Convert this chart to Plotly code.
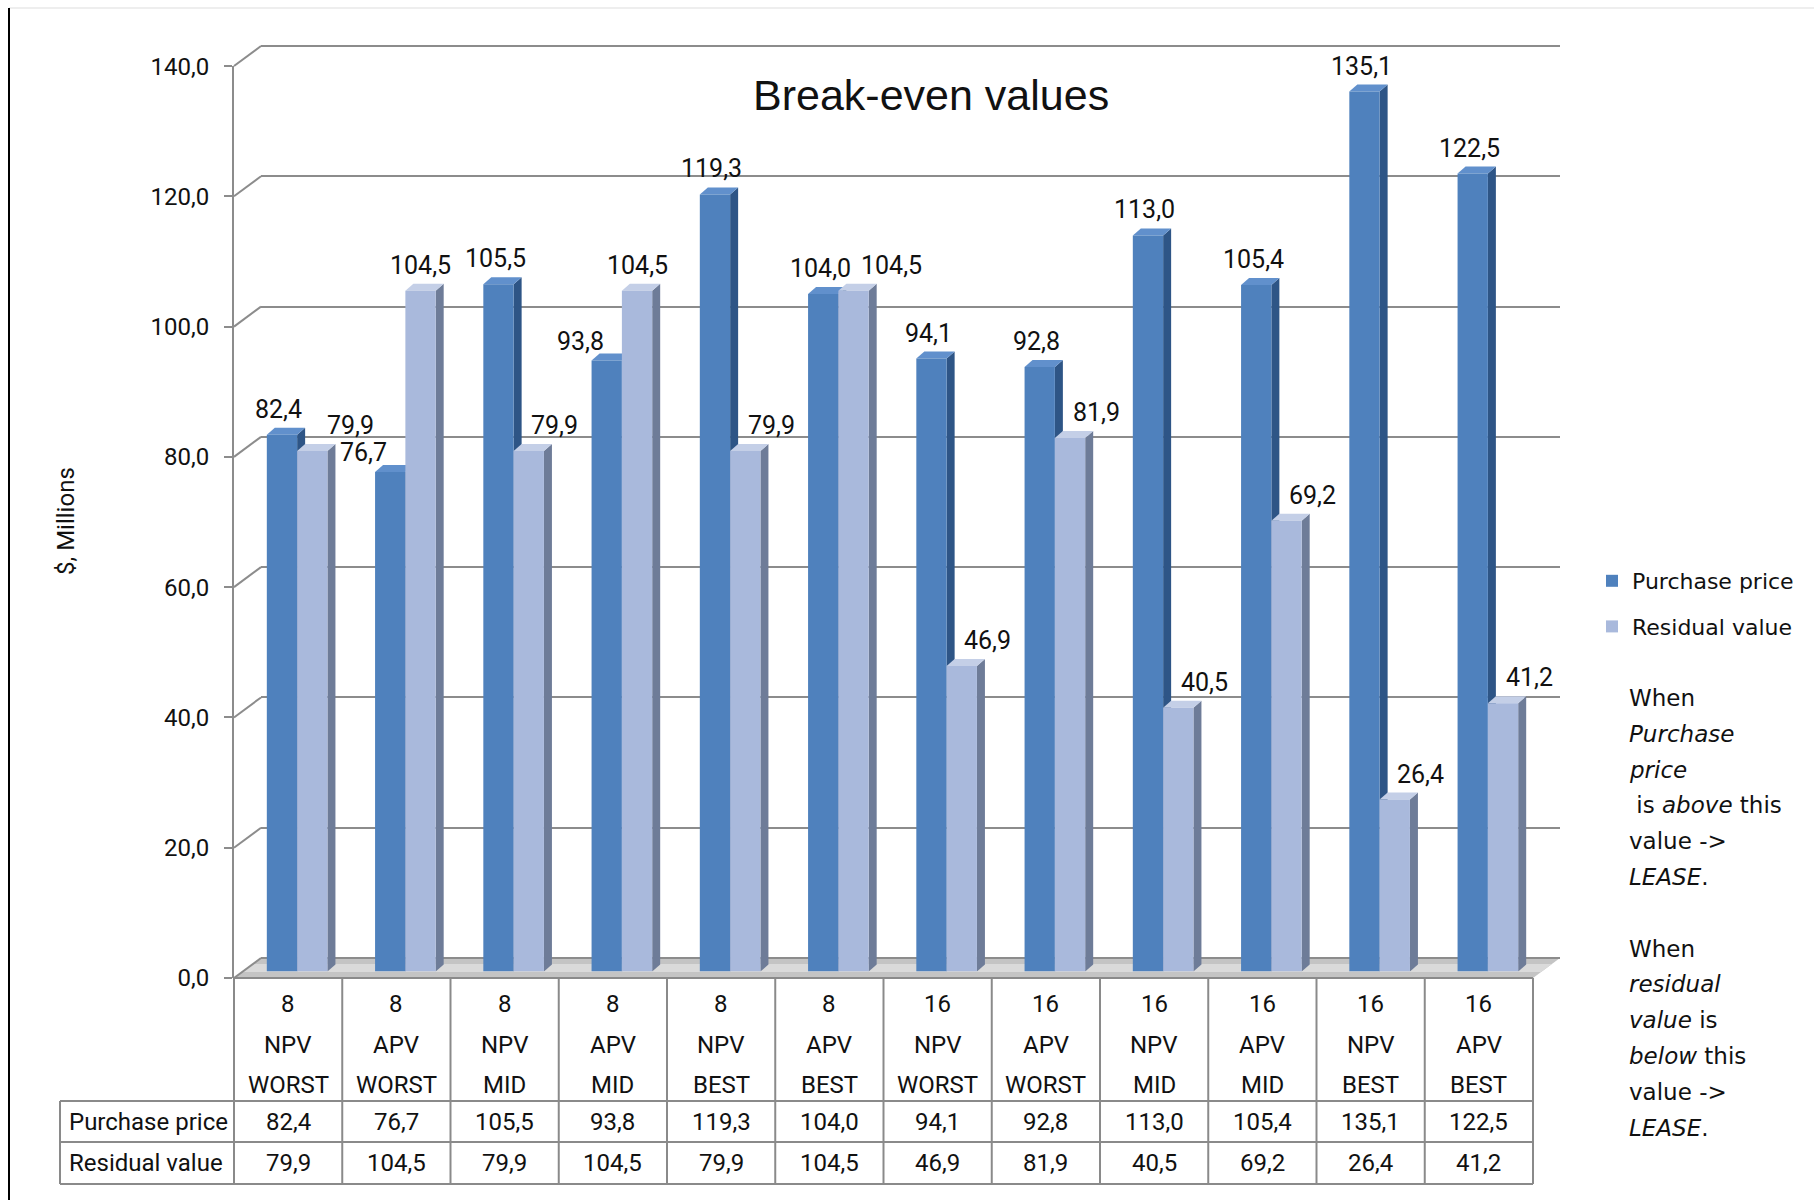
import plotly.graph_objects as go

# ---- data -----------------------------------------------------------------
periods = [8, 8, 8, 8, 8, 8, 16, 16, 16, 16, 16, 16]
methods = ["NPV", "APV", "NPV", "APV", "NPV", "APV", "NPV", "APV", "NPV", "APV", "NPV", "APV"]
scenarios = ["WORST", "WORST", "MID", "MID", "BEST", "BEST",
             "WORST", "WORST", "MID", "MID", "BEST", "BEST"]
purchase_price = [82.4, 76.7, 105.5, 93.8, 119.3, 104.0, 94.1, 92.8, 113.0, 105.4, 135.1, 122.5]
residual_value = [79.9, 104.5, 79.9, 104.5, 79.9, 104.5, 46.9, 81.9, 40.5, 69.2, 26.4, 41.2]
series_names = ["Purchase price", "Residual value"]
y_ticks = [0, 20, 40, 60, 80, 100, 120, 140]

note_lines = ["When", "<i>Purchase</i>", "<i>price</i>", "\u00a0is <i>above</i> this",
              "value ->", "<i>LEASE</i>.", "", "When", "<i>residual</i>",
              "<i>value</i> is", "<i>below</i> this", "value ->", "<i>LEASE</i>."]

# ---- geometry (pixels) ----------------------------------------------------
FIG_W, FIG_H = 1814, 1200
FRONT_X0, FRONT_X1 = 234, 1533      # front edge of the floor
FRONT_Y0, FRONT_Y1 = 978, 66        # front axis: value 0 and value max
DEPTH_X, DEPTH_Y = 27, 20           # offset of the back wall
BAR_DX, BAR_DY = 9, 6.5             # offset of the plane the columns stand in
Y_MAX = 140
Y_RANGE = [0, Y_MAX + 0.02]
WALL_PAD = 1.0                      # back wall range padding so the end gridlines show

L, R = FRONT_X0, FRONT_X1 + DEPTH_X + 6
T, B = FRONT_Y1 - DEPTH_Y - 14, FRONT_Y0
W, H = R - L, B - T
n = len(periods)
cat_px = (FRONT_X1 - FRONT_X0) / n
val_px = (FRONT_Y0 - FRONT_Y1) / Y_MAX


def px(xp):
    return (xp - L) / W


def py(yp):
    return (B - yp) / H


def dom_x(shift):
    return [max(0.0, px(FRONT_X0 + shift)), min(1.0, px(FRONT_X1 + shift))]


def dom_y(shift, pad=0.0):
    return [max(0.0, py(FRONT_Y0 - shift + pad * val_px)),
            min(1.0, py(FRONT_Y1 - shift - pad * val_px))]


# ---- styling ----------------------------------------------------------------
BLUE, BLUE_SIDE, BLUE_TOP = "#4F81BD", "#2E5586", "#6190CC"
LIGHT, LIGHT_SIDE, LIGHT_TOP = "#A9B9DC", "#6E7C98", "#C4CFE7"
GRID = "#8C8C8C"
NARROW = "Liberation Sans Narrow, Arial Narrow, Roboto, sans-serif"
WIDE = "DejaVu Sans, Verdana, sans-serif"
BAR_W = 0.28
SIDE_PX, TOP_PX = 8, 7
dxu = SIDE_PX / cat_px
dyu = TOP_PX / val_px

fig = go.Figure()
xs = list(range(n))

# front faces of the columns
fig.add_trace(go.Bar(x=xs, y=purchase_price, width=BAR_W, offset=-BAR_W,
                     marker=dict(color=BLUE, line=dict(width=0)), name=series_names[0],
                     legendgroup="a", xaxis="x2", yaxis="y2", hoverinfo="skip"))
fig.add_trace(go.Bar(x=xs, y=residual_value, width=BAR_W, offset=0,
                     marker=dict(color=LIGHT, line=dict(width=0)), name=series_names[1],
                     legendgroup="b", xaxis="x2", yaxis="y2", hoverinfo="skip"))
# empty traces so the back and front planes exist as subplots
fig.add_trace(go.Scatter(x=[], y=[], xaxis="x", yaxis="y", showlegend=False))
fig.add_trace(go.Scatter(x=[], y=[], xaxis="x3", yaxis="y3", showlegend=False))

shapes = []
annotations = []

# floor slab with a lighter band across its middle
fx0, fx1 = FRONT_X0, FRONT_X1
for inset, col in ((0.0, "#C4C4C4"), (0.3, "#DADADA")):
    a = inset
    b = 1 - inset
    shapes.append(dict(type="path", xref="paper", yref="paper", layer="below",
                       path=f"M {px(fx0 + a * DEPTH_X)},{py(FRONT_Y0 - a * DEPTH_Y)} "
                            f"L {px(fx1 + a * DEPTH_X)},{py(FRONT_Y0 - a * DEPTH_Y)} "
                            f"L {px(fx1 + b * DEPTH_X)},{py(FRONT_Y0 - b * DEPTH_Y)} "
                            f"L {px(fx0 + b * DEPTH_X)},{py(FRONT_Y0 - b * DEPTH_Y)} Z",
                       fillcolor=col, line=dict(width=0)))

# side and top faces of each column
for vals, off, side_c, top_c in ((purchase_price, -BAR_W, BLUE_SIDE, BLUE_TOP),
                                 (residual_value, 0.0, LIGHT_SIDE, LIGHT_TOP)):
    for i, v in enumerate(vals):
        x0 = i + off
        x1 = x0 + BAR_W
        shapes.append(dict(type="path", xref="x2", yref="y2", layer="between",
                           path=f"M {x1},0 L {x1},{v} L {x1 + dxu},{v + dyu} L {x1 + dxu},{dyu} Z",
                           fillcolor=side_c, line=dict(width=0)))
        shapes.append(dict(type="path", xref="x2", yref="y2", layer="between",
                           path=f"M {x0},{v} L {x1},{v} L {x1 + dxu},{v + dyu} L {x0 + dxu},{v + dyu} Z",
                           fillcolor=top_c, line=dict(width=0)))

# diagonal links from the front axis ticks to the back wall grid
for t in y_ticks:
    yf = FRONT_Y0 - t * val_px
    shapes.append(dict(type="line", xref="paper", yref="paper", layer="below",
                       x0=px(FRONT_X0), y0=py(yf), x1=px(FRONT_X0 + DEPTH_X), y1=py(yf - DEPTH_Y),
                       line=dict(color=GRID, width=2)))


def fmt(v):
    return f"{v:.1f}".replace(".", ",")


# value labels
LABEL_FONT = dict(family=NARROW, size=25, color="#111111")
for i in range(n):
    p, r = purchase_price[i], residual_value[i]
    if r - p > 3:
        annotations.append(dict(x=i - BAR_W, y=p, xref="x2", yref="y2", text=fmt(p),
                                showarrow=False, xanchor="right", yanchor="bottom",
                                xshift=14, yshift=3, font=LABEL_FONT))
        annotations.append(dict(x=i + BAR_W / 2, y=r, xref="x2", yref="y2", text=fmt(r),
                                showarrow=False, xanchor="center", yanchor="bottom",
                                yshift=9, font=LABEL_FONT))
    else:
        push = 38 if abs(r - p) < 3 else 26
        annotations.append(dict(x=i - BAR_W / 2, y=p, xref="x2", yref="y2", text=fmt(p),
                                showarrow=False, xanchor="center", yanchor="bottom",
                                xshift=-3, yshift=9, font=LABEL_FONT))
        annotations.append(dict(x=i + BAR_W / 2, y=r, xref="x2", yref="y2", text=fmt(r),
                                showarrow=False, xanchor="center", yanchor="bottom",
                                xshift=push, yshift=9, font=LABEL_FONT))

# ---- data table under the plot -------------------------------------------
TAB_LEFT = 60
HEAD_BOTTOM, ROW1_BOTTOM, ROW2_BOTTOM = 1101, 1142, 1184
TLINE = dict(color="#8A8A8A", width=2)
for k in range(n + 1):
    xk = FRONT_X0 + k * cat_px
    shapes.append(dict(type="line", xref="paper", yref="paper", x0=px(xk), x1=px(xk),
                       y0=py(FRONT_Y0), y1=py(ROW2_BOTTOM), line=TLINE))
shapes.append(dict(type="line", xref="paper", yref="paper", x0=px(FRONT_X0), x1=px(FRONT_X1),
                   y0=py(FRONT_Y0), y1=py(FRONT_Y0), line=TLINE))
for yb in (HEAD_BOTTOM, ROW1_BOTTOM, ROW2_BOTTOM):
    shapes.append(dict(type="line", xref="paper", yref="paper", x0=px(TAB_LEFT), x1=px(FRONT_X1),
                       y0=py(yb), y1=py(yb), line=TLINE))
shapes.append(dict(type="line", xref="paper", yref="paper", x0=px(TAB_LEFT), x1=px(TAB_LEFT),
                   y0=py(HEAD_BOTTOM), y1=py(ROW2_BOTTOM), line=TLINE))

TABLE_FONT = dict(family=NARROW, size=24, color="#111111")
head_rows = [[str(p) for p in periods], methods, scenarios]
for row, yc in zip(head_rows, (1004, 1045, 1085)):
    for i, txt in enumerate(row):
        annotations.append(dict(x=i, y=py(yc), xref="x3", yref="paper", text=txt,
                                showarrow=False, xanchor="center", yanchor="middle",
                                font=TABLE_FONT))
for name, vals, yc in ((series_names[0], purchase_price, 1122),
                       (series_names[1], residual_value, 1163)):
    annotations.append(dict(x=px(TAB_LEFT + 7), y=py(yc), xref="paper", yref="paper", text=name,
                            showarrow=False, xanchor="left", yanchor="middle", font=TABLE_FONT))
    for i, v in enumerate(vals):
        annotations.append(dict(x=i, y=py(yc), xref="x3", yref="paper", text=fmt(v),
                                showarrow=False, xanchor="center", yanchor="middle",
                                font=TABLE_FONT))

# title, axis title, side note
annotations.append(dict(x=px(931), y=py(95), xref="paper", yref="paper",
                        text="Break-even values", showarrow=False,
                        xanchor="center", yanchor="middle",
                        font=dict(family="Liberation Sans, Arial, sans-serif", size=43, color="#111111")))
annotations.append(dict(x=px(66), y=py(521), xref="paper", yref="paper", text="$, Millions",
                        showarrow=False, textangle=-90, xanchor="center", yanchor="middle",
                        font=dict(family=NARROW, size=24, color="#111111")))
NOTE_FONT = dict(family=WIDE, size=23, color="#111111")
for j, line in enumerate(note_lines):
    if line:
        annotations.append(dict(x=px(1627), y=py(698 + j * 35.8), xref="paper", yref="paper",
                                text=line, showarrow=False, xanchor="left", yanchor="middle",
                                font=NOTE_FONT))

# frame lines of the sheet
shapes.append(dict(type="line", xref="paper", yref="paper", x0=px(9), x1=px(FIG_W),
                   y0=py(8), y1=py(8), line=dict(color="#DDDDDD", width=1)))
shapes.append(dict(type="line", xref="paper", yref="paper", x0=px(9), x1=px(9),
                   y0=py(8), y1=py(FIG_H + 5), line=dict(color="#000000", width=2)))

hidden_x = dict(visible=False, range=[-0.5, n - 0.5], fixedrange=True)
fig.update_layout(
    width=FIG_W, height=FIG_H,
    margin=dict(l=L, r=FIG_W - R, t=T, b=FIG_H - B, pad=0),
    paper_bgcolor="white", plot_bgcolor="rgba(0,0,0,0)",
    separators=", ",
    barmode="overlay",
    showlegend=True,
    legend=dict(x=px(1592), y=py(560), xanchor="left", yanchor="top",
                font=dict(family=WIDE, size=22, color="#111111"),
                bgcolor="rgba(0,0,0,0)", tracegroupgap=14, itemwidth=30),
    xaxis=dict(hidden_x, domain=dom_x(DEPTH_X), anchor="y"),
    yaxis=dict(domain=dom_y(DEPTH_Y, WALL_PAD), anchor="x",
               range=[-WALL_PAD, Y_MAX + WALL_PAD], tickvals=y_ticks,
               showgrid=True, gridcolor=GRID, gridwidth=2, showticklabels=False,
               zeroline=False, showline=False, ticks=""),
    xaxis2=dict(hidden_x, domain=dom_x(BAR_DX), anchor="y2"),
    yaxis2=dict(domain=dom_y(BAR_DY), anchor="x2", range=Y_RANGE, visible=False),
    xaxis3=dict(hidden_x, domain=dom_x(0), anchor="y3"),
    yaxis3=dict(domain=dom_y(0), anchor="x3", range=Y_RANGE, tickvals=y_ticks,
                tickformat=".1f", showgrid=False, zeroline=False, showline=True,
                linecolor=GRID, linewidth=2, ticks="outside", ticklen=8, tickcolor=GRID,
                tickwidth=2, ticklabelstandoff=10,
                tickfont=dict(family=NARROW, size=24, color="#111111")),
    shapes=shapes,
    annotations=annotations,
)

fig.write_html("out.html")
